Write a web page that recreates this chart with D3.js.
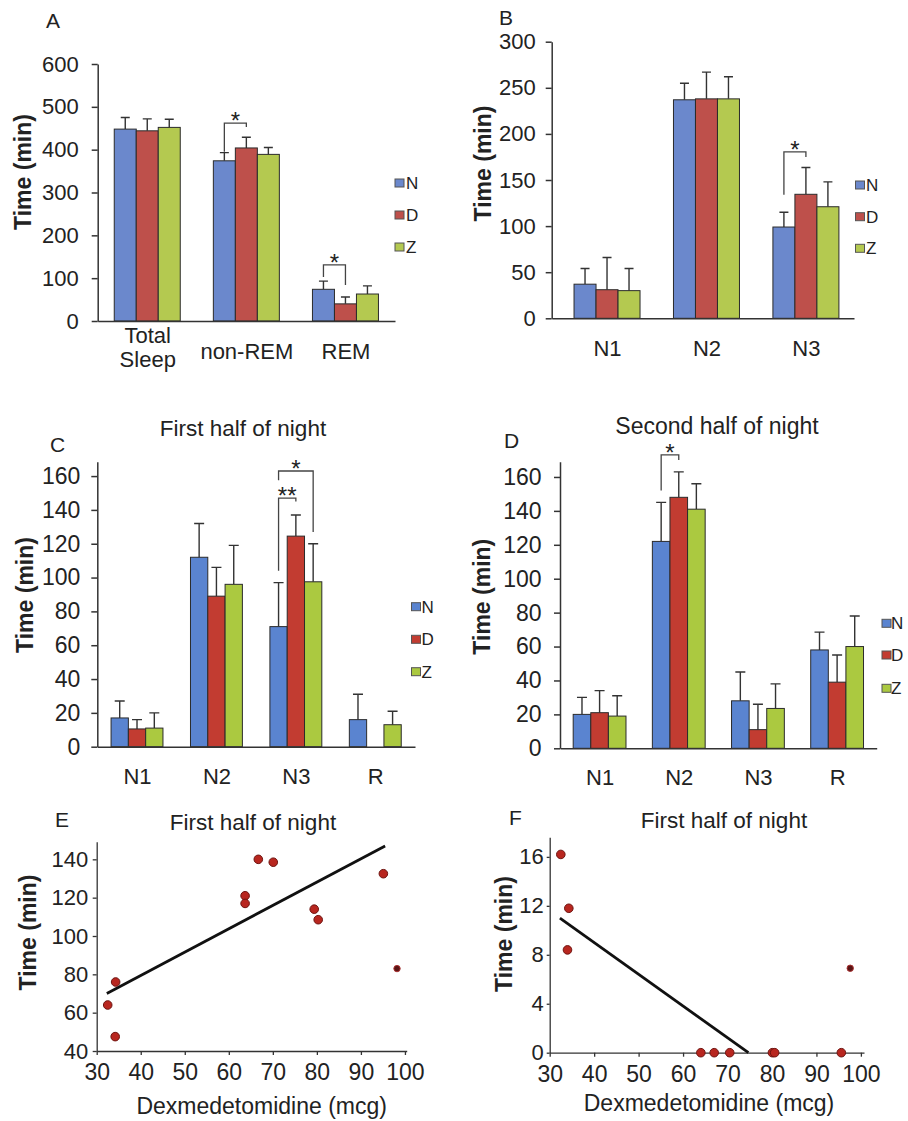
<!DOCTYPE html>
<html>
<head>
<meta charset="utf-8">
<script src="https://cdn.jsdelivr.net/npm/d3@7"></script>
<style>
body { margin: 0; background: #fff; }
svg { display: block; font-family: 'Liberation Sans', Arial, Helvetica, sans-serif; }
</style>
</head>
<body>
<div id="chart"></div>
<script>
'use strict';

// ---- data ----
var series = ['N', 'D', 'Z'];

// A: whole night
var catsA = ['Total Sleep', 'non-REM', 'REM'];
var meanA = [[448, 374, 74], [444, 404, 40], [452, 389, 63]];   // rows N, D, Z
var sdA   = [[27, 19, 19], [28, 25, 16], [19, 16, 19]];
var ticksA = [0, 100, 200, 300, 400, 500, 600];
var sigA = [
    {cat: 'non-REM', from: 'N', to: 'D', top: 462, legFrom: 395, legTo: 453, label: '*'},
    {cat: 'REM', from: 'N', to: 'D', top: 131, legFrom: 103, legTo: 84, label: '*'}
];

// B: NREM stages, whole night
var catsB = ['N1', 'N2', 'N3'];
var meanB = [[37, 237, 99], [31, 238, 134.5], [30, 238, 121]];
var sdB   = [[17, 18, 16], [35, 29, 29], [24, 24, 27]];
var ticksB = [0, 50, 100, 150, 200, 250, 300];
var sigB = [
    {cat: 'N3', from: 'N', to: 'D', top: 180.5, legFrom: 134, legTo: 175, label: '*'}
];

// C: first half of night
var catsC = ['N1', 'N2', 'N3', 'R'];
var meanC = [[17, 112, 71, 16], [10.5, 89, 124.5, null], [11, 96, 97.5, 13]];
var sdC   = [[10, 20, 26, 15], [5.5, 17, 12.5, null], [9, 23, 22.5, 8]];
var ticksC = [0, 20, 40, 60, 80, 100, 120, 140, 160];
var sigC = [
    {cat: 'N3', from: 'N', to: 'D', top: 147, legFrom: 104, legTo: 145, label: '**'},
    {cat: 'N3', from: 'N', to: 'Z', top: 163, legFrom: 157.5, legTo: 127, label: '*'}
];

// D: second half of night
var catsD = ['N1', 'N2', 'N3', 'R'];
var meanD = [[20, 122, 28, 58], [21, 148, 11, 39], [19, 141, 23.5, 60]];
var sdD   = [[10, 23, 17, 10.5], [13, 15, 15, 16], [12, 15, 14.5, 18]];
var ticksD = [0, 20, 40, 60, 80, 100, 120, 140, 160];
var sigD = [
    {cat: 'N2', from: 'N', to: 'D', top: 173, legFrom: 152, legTo: 170, label: '*'}
];

// E: N3 time vs dose, first half
var doseE = [32.5, 34.3, 34.2, 63.7, 63.7, 66.7, 70.1, 79.4, 80.3, 95.1, 98.2];
var timeE = [64, 76, 47.5, 121, 117, 140, 138.5, 114, 108.5, 132.5, 83];
var fitDoseE = [32.3, 95.5];
var fitTimeE = [70, 147];
var xTicksE = [30, 40, 50, 60, 70, 80, 90, 100];
var yTicksE = [40, 60, 80, 100, 120, 140];

// F: REM time vs dose, first half
var doseF = [32.5, 34.3, 34.0, 64, 67, 70.5, 80.1, 80.6, 95.6, 97.6];
var timeF = [16.2, 11.8, 8.4, 0, 0, 0, 0, 0, 0, 6.9];
var fitDoseF = [32.3, 74.7];
var fitTimeF = [11, 0];
var xTicksF = [30, 40, 50, 60, 70, 80, 90, 100];
var yTicksF = [0, 4, 8, 12, 16];

// ---- drawing ----
var fig = {};
fig.ink = '#222';
fig.line = '#333';
fig.colorsTop = ['#6b88cc', '#be504b', '#b4c950'];
fig.colorsMid = ['#5a84d0', '#c23c31', '#abc940'];

fig.svg = d3.select('#chart').append('svg')
    .attr('width', 908)
    .attr('height', 1121);
fig.svg.append('rect').attr('width', 908).attr('height', 1121).attr('fill', '#fff');

fig.text = function (svg, x, y, str, size, opts)
{
    opts = opts || {};
    var t = svg.append('text')
        .attr('x', x)
        .attr('y', y)
        .attr('font-size', size)
        .attr('fill', fig.ink)
        .attr('text-anchor', opts.anchor || 'start')
        .text(str);
    if (opts.bold) t.attr('font-weight', 'bold');
    return t;
}

fig.yTitle = function (svg, cx, cy, str)
{
    svg.append('text')
        .attr('transform', 'translate(' + cx + ',' + cy + ') rotate(-90)')
        .attr('text-anchor', 'middle')
        .attr('dy', '0.36em')
        .attr('font-size', 23)
        .attr('font-weight', 'bold')
        .attr('fill', fig.ink)
        .text(str);
}

fig.styleAxis = function (g, size, width)
{
    g.attr('font-family', null)
        .attr('font-size', size)
        .attr('color', fig.line);
    g.selectAll('text').attr('fill', fig.ink);
    g.selectAll('path, line').attr('stroke-width', width);
}

fig.legend = function (svg, colors, lg)
{
    var rows = svg.append('g').selectAll('g').data(series).enter()
        .append('g')
        .attr('transform', function (d, i) { return 'translate(' + lg.x + ',' + lg.ys[i] + ')'; });
    rows.append('rect')
        .attr('x', 0)
        .attr('y', -4)
        .attr('width', 9)
        .attr('height', 8)
        .attr('fill', function (d, i) { return colors[i]; })
        .attr('stroke', '#555')
        .attr('stroke-width', 1);
    rows.append('text')
        .attr('x', lg.tx - lg.x)
        .attr('dy', '0.36em')
        .attr('font-size', 17)
        .attr('fill', fig.ink)
        .text(function (d) { return d; });
}

fig.barPanel = function (svg, p)
{
    var x = d3.scalePoint().domain(p.cats).range([p.left, p.right]).padding(p.pad).align(p.align);
    var y = d3.scaleLinear().domain([0, p.max]).range([p.bottom, p.top]);
    var s = d3.scaleBand().domain(series).range([-1.5 * p.bw, 1.5 * p.bw]);
    var g = svg.append('g');

    var cells = [];
    series.forEach(function (name, si) {
        p.cats.forEach(function (cat, ci) {
            if (p.mean[si][ci] == null) return;
            cells.push({cat: cat, name: name, si: si, v: p.mean[si][ci], e: p.sd[si][ci]});
        });
    });
    var cx = function (cat, name) { return x(cat) + s(name) + s.bandwidth() / 2; };

    // upper error bars
    g.selectAll('path.err').data(cells).enter()
        .append('path')
        .attr('class', 'err')
        .attr('d', function (d) {
            var c = cx(d.cat, d.name), t = y(d.v + d.e);
            return 'M' + c + ',' + y(d.v) + 'V' + t + 'M' + (c - p.cap / 2) + ',' + t + 'H' + (c + p.cap / 2);
        })
        .attr('fill', 'none')
        .attr('stroke', '#333')
        .attr('stroke-width', 1.4);

    g.selectAll('rect.bar').data(cells).enter()
        .append('rect')
        .attr('class', 'bar')
        .attr('x', function (d) { return x(d.cat) + s(d.name); })
        .attr('y', function (d) { return y(d.v); })
        .attr('width', s.bandwidth())
        .attr('height', function (d) { return y(0) - y(d.v); })
        .attr('fill', function (d) { return p.colors[d.si]; })
        .attr('stroke', '#2b2b2b')
        .attr('stroke-width', 1);

    // significance brackets
    p.sig.forEach(function (b) {
        var xa = cx(b.cat, b.from), xb = cx(b.cat, b.to), t = y(b.top);
        g.append('path')
            .attr('d', 'M' + xa + ',' + y(b.legFrom) + 'V' + t + 'H' + xb + 'V' + y(b.legTo))
            .attr('fill', 'none')
            .attr('stroke', '#444')
            .attr('stroke-width', 1.3);
        g.append('text')
            .attr('x', (xa + xb) / 2)
            .attr('y', t + 6)
            .attr('text-anchor', 'middle')
            .attr('font-size', 24)
            .attr('fill', fig.ink)
            .text(b.label);
    });

    var yg = g.append('g')
        .attr('transform', 'translate(' + p.left + ',0)')
        .call(d3.axisLeft(y).tickValues(p.ticks).tickSize(6).tickSizeOuter(0).tickPadding(p.ypad));
    fig.styleAxis(yg, p.tickFs, 1.5);

    var xg = g.append('g')
        .attr('transform', 'translate(0,' + p.bottom + ')')
        .call(d3.axisBottom(x).tickSize(0).tickSizeOuter(0).tickPadding(p.xpad));
    fig.styleAxis(xg, 22, 1.5);
    if (p.wrap) {
        xg.selectAll('text').each(function (lbl) {
            var words = lbl.split(' ');
            if (words.length < 2) return;
            var el = d3.select(this).text(null);
            words.forEach(function (w, i) {
                el.append('tspan').attr('x', 0).attr('dy', i ? '1.1em' : 0).text(w);
            });
        });
    }

    fig.legend(svg, p.colors, p.legend);
}

fig.scatterPanel = function (svg, p)
{
    var x = d3.scaleLinear().domain(p.xDomain).range([p.left, p.right]);
    var y = d3.scaleLinear().domain(p.yDomain).range([p.bottom, p.top]);
    var g = svg.append('g');

    var yg = g.append('g')
        .attr('transform', 'translate(' + p.left + ',0)')
        .call(d3.axisLeft(y).tickValues(p.yTicks).tickSize(p.ytick).tickSizeOuter(0).tickPadding(p.ypad));
    fig.styleAxis(yg, 22, 1.3);

    var xg = g.append('g')
        .attr('transform', 'translate(0,' + p.bottom + ')')
        .call(d3.axisBottom(x).tickValues(p.xTicks).tickSize(4).tickSizeOuter(0).tickPadding(9));
    fig.styleAxis(xg, 23, 1.3);

    var line = d3.line()
        .x(function (d) { return x(d[0]); })
        .y(function (d) { return y(d[1]); });
    g.append('path')
        .attr('d', line(d3.zip(p.fitX, p.fitY)))
        .attr('fill', 'none')
        .attr('stroke', '#111')
        .attr('stroke-width', 2.8);

    var pts = d3.zip(p.xs, p.ys);
    var last = pts.length - 1;   // the right-most point is drawn smaller and darker
    g.selectAll('circle').data(pts).enter()
        .append('circle')
        .attr('cx', function (d) { return x(d[0]); })
        .attr('cy', function (d) { return y(d[1]); })
        .attr('r', function (d, i) { return i === last ? 3.2 : 4.3; })
        .attr('fill', function (d, i) { return i === last ? '#5a1414' : '#b8261f'; })
        .attr('stroke', function (d, i) { return i === last ? '#a33' : '#6e1410'; })
        .attr('stroke-width', 1);
}

var svg = fig.svg;

// panel A
fig.barPanel(svg, {
    cats: catsA, mean: meanA, sd: sdA, ticks: ticksA, sig: sigA, colors: fig.colorsTop,
    left: 97.7, right: 395, bottom: 321, top: 64, max: 600, bw: 22, cap: 9,
    pad: 0.5, align: 0.5, ypad: 13, xpad: 22, tickFs: 22, wrap: true,
    legend: {x: 395, tx: 406, ys: [183, 215, 247]}
});
fig.text(svg, 46, 28, 'A', 21);
fig.yTitle(svg, 23, 172, 'Time (min)');

// panel B
fig.barPanel(svg, {
    cats: catsB, mean: meanB, sd: sdB, ticks: ticksB, sig: sigB, colors: fig.colorsTop,
    left: 551.7, right: 854, bottom: 318.3, top: 41.7, max: 300, bw: 22, cap: 9,
    pad: 0.52, align: 0.535, ypad: 10, xpad: 22.5, tickFs: 22, wrap: false,
    legend: {x: 855.5, tx: 866, ys: [185, 216.7, 248.3]}
});
fig.text(svg, 499, 25, 'B', 21);
fig.yTitle(svg, 483, 163.5, 'Time (min)');

// panel C
fig.barPanel(svg, {
    cats: catsC, mean: meanC, sd: sdC, ticks: ticksC, sig: sigC, colors: fig.colorsMid,
    left: 97.3, right: 415, bottom: 746.7, top: 461.7, max: 168.5, bw: 17.3, cap: 10,
    pad: 0.5, align: 0.5, ypad: 11, xpad: 21.5, tickFs: 23, wrap: false,
    legend: {x: 411.5, tx: 421.5, ys: [606.7, 639.3, 671.7]}
});
fig.text(svg, 50, 452, 'C', 21);
fig.text(svg, 243, 436, 'First half of night', 22.5, {anchor: 'middle'});
fig.yTitle(svg, 25, 595, 'Time (min)');

// panel D
fig.barPanel(svg, {
    cats: catsD, mean: meanD, sd: sdD, ticks: ticksD, sig: sigD, colors: fig.colorsMid,
    left: 560, right: 876.7, bottom: 748.3, top: 461.7, max: 169, bw: 17.6, cap: 10,
    pad: 0.5, align: 0.5, ypad: 12.5, xpad: 20.7, tickFs: 23, wrap: false,
    legend: {x: 882, tx: 891, ys: [623.3, 655, 688.3]}
});
fig.text(svg, 504, 448, 'D', 21);
fig.text(svg, 717, 434, 'Second half of night', 23, {anchor: 'middle'});
fig.yTitle(svg, 482, 596.7, 'Time (min)');

// panel E
fig.scatterPanel(svg, {
    xs: doseE, ys: timeE, fitX: fitDoseE, fitY: fitTimeE, xTicks: xTicksE, yTicks: yTicksE,
    xDomain: [30, 100.4], yDomain: [40, 149.2],
    left: 96.7, right: 406.7, bottom: 1051, top: 841.7, ytick: 4, ypad: 4.5
});
fig.text(svg, 55, 826.7, 'E', 21);
fig.text(svg, 253, 830, 'First half of night', 22.5, {anchor: 'middle'});
fig.yTitle(svg, 27.5, 932.5, 'Time (min)');
fig.text(svg, 261.7, 1113.5, 'Dexmedetomidine (mcg)', 23, {anchor: 'middle'});

// panel F
fig.scatterPanel(svg, {
    xs: doseF, ys: timeF, fitX: fitDoseF, fitY: fitTimeF, xTicks: xTicksF, yTicks: yTicksF,
    xDomain: [30, 100.7], yDomain: [0, 17.6],
    left: 549.7, right: 864, bottom: 1052.7, top: 837.3, ytick: 3, ypad: 3
});
fig.text(svg, 509, 825, 'F', 21);
fig.text(svg, 724, 828.3, 'First half of night', 22.5, {anchor: 'middle'});
fig.yTitle(svg, 504, 934, 'Time (min)');
fig.text(svg, 709, 1110.5, 'Dexmedetomidine (mcg)', 23, {anchor: 'middle'});
</script>
</body>
</html>
